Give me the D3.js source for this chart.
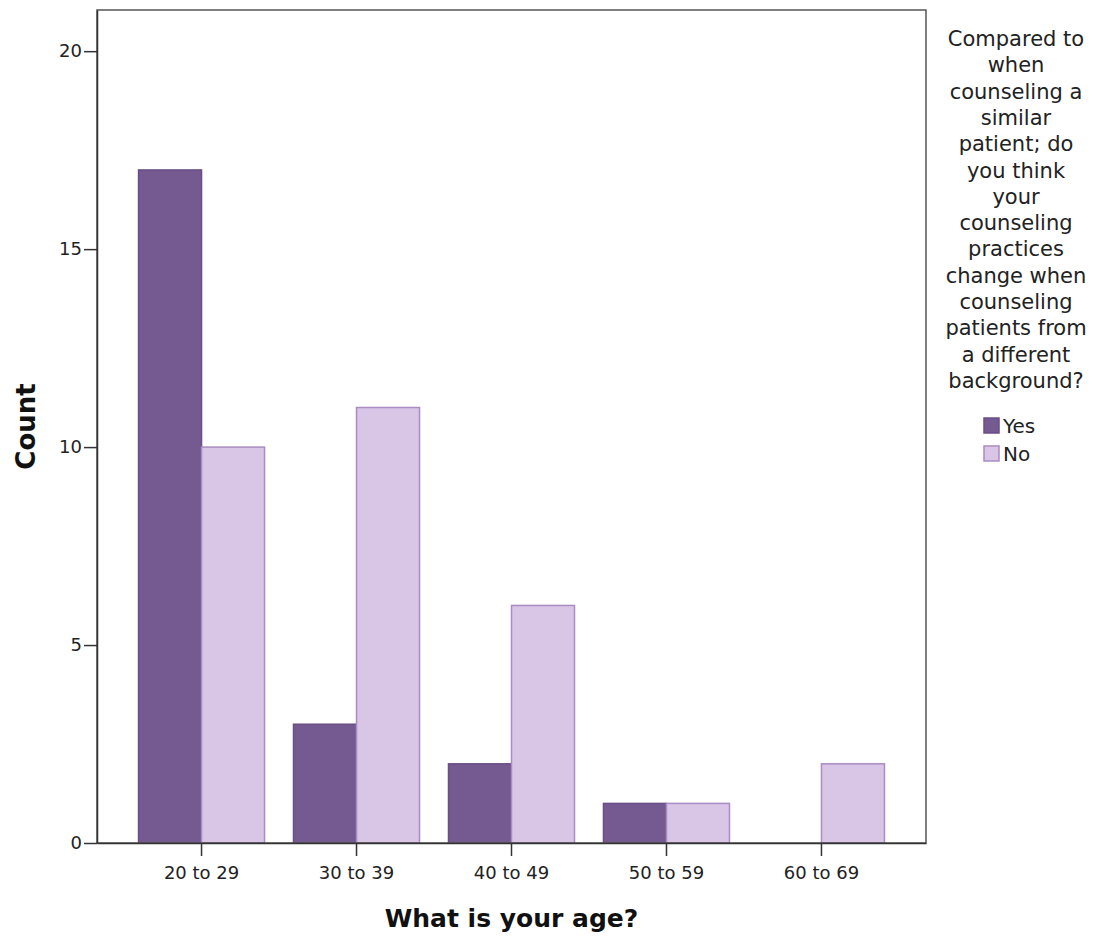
<!DOCTYPE html>
<html><head><meta charset="utf-8">
<script src="https://cdn.jsdelivr.net/npm/d3@7"></script>
<style>body{margin:0;background:#fff}svg{display:block}</style>
</head><body>
<script>
const categories = ["20 to 29","30 to 39","40 to 49","50 to 59","60 to 69"];
const seriesNames = ["Yes","No"];
const yesValues = [17,3,2,1,0];
const noValues = [10,11,6,1,2];
const yTicks = [0,5,10,15,20];
const legendTitle = ["Compared to","when","counseling a","similar","patient; do","you think","your","counseling","practices","change when","counseling","patients from","a different","background?"];
const colors = {Yes:"#745a91", No:"#d9c5e6"};
const strokes = {Yes:"#6a4f86", No:"#a98cc3"};

const FONT="'DejaVu Sans', Verdana, sans-serif";
const W=1101,H=937;
const L=97,R=926,T=10,B=843;
const svg=d3.select("body").append("svg").attr("width",W).attr("height",H)
  .style("font-family",FONT);

const x=d3.scaleBand().domain(categories).range([L,R]).paddingInner(0.187).paddingOuter(0.268);
const xs=d3.scaleBand().domain(seriesNames).range([0,x.bandwidth()]);
const y=d3.scaleLinear().domain([0,21.04]).range([B,T]);

const data=categories.map((c,i)=>({c, vals:[{k:"Yes",v:yesValues[i]},{k:"No",v:noValues[i]}]}));
const g=svg.append("g");
g.selectAll("g.cat").data(data).join("g").attr("transform",d=>`translate(${x(d.c)},0)`)
 .selectAll("rect").data(d=>d.vals.filter(e=>e.v>0)).join("rect")
 .attr("x",d=>xs(d.k)).attr("width",xs.bandwidth())
 .attr("y",d=>y(d.v)).attr("height",d=>B-y(d.v))
 .attr("fill",d=>colors[d.k]).attr("stroke",d=>strokes[d.k]).attr("stroke-width",1.5);

// frame
svg.append("rect").attr("x",L).attr("y",T).attr("width",R-L).attr("height",B-T)
  .attr("fill","none").attr("stroke","#555").attr("stroke-width",1.5);

// y axis
const ya=svg.append("g").attr("transform",`translate(${L},0)`)
  .call(d3.axisLeft(y).tickValues(yTicks).tickSize(13).tickSizeOuter(0).tickPadding(2).tickFormat(d3.format("d")));
ya.select(".domain").attr("stroke","#333").attr("stroke-width",1.5);
ya.selectAll(".tick line").attr("stroke","#333").attr("stroke-width",1.5);
ya.selectAll(".tick text").attr("font-size",18).attr("fill","#222").style("font-family",FONT);

// x axis
const xa=svg.append("g").attr("transform",`translate(0,${B})`)
  .call(d3.axisBottom(x).tickSize(13).tickSizeOuter(0).tickPadding(10));
xa.select(".domain").attr("stroke","#333").attr("stroke-width",1.5);
xa.selectAll(".tick line").attr("stroke","#333").attr("stroke-width",1.5);
xa.selectAll(".tick text").attr("font-size",18).attr("fill","#222").style("font-family",FONT);

// axis titles
svg.append("text").attr("transform",`translate(35,${(T+B)/2}) rotate(-90)`)
  .attr("text-anchor","middle").attr("font-size",26).attr("font-weight","bold").attr("fill","#111").text("Count");
svg.append("text").attr("x",(L+R)/2).attr("y",927).attr("text-anchor","middle")
  .attr("font-size",25).attr("font-weight","bold").attr("fill","#111").text("What is your age?");

// legend
const lg=svg.append("g");
lg.selectAll("text.t").data(legendTitle).join("text").attr("class","t")
  .attr("x",1016).attr("y",(d,i)=>46+i*26.3).attr("text-anchor","middle")
  .attr("font-size",21).attr("fill","#222").text(d=>d);
const li=lg.selectAll("g.item").data(seriesNames).join("g").attr("class","item")
  .attr("transform",(d,i)=>`translate(984,${418+i*28})`);
li.append("rect").attr("width",15).attr("height",15).attr("fill",d=>colors[d]).attr("stroke",d=>strokes[d]).attr("stroke-width",1.5);
li.append("text").attr("x",19).attr("y",15).attr("font-size",20).attr("fill","#222").text(d=>d);
</script>
</body></html>
